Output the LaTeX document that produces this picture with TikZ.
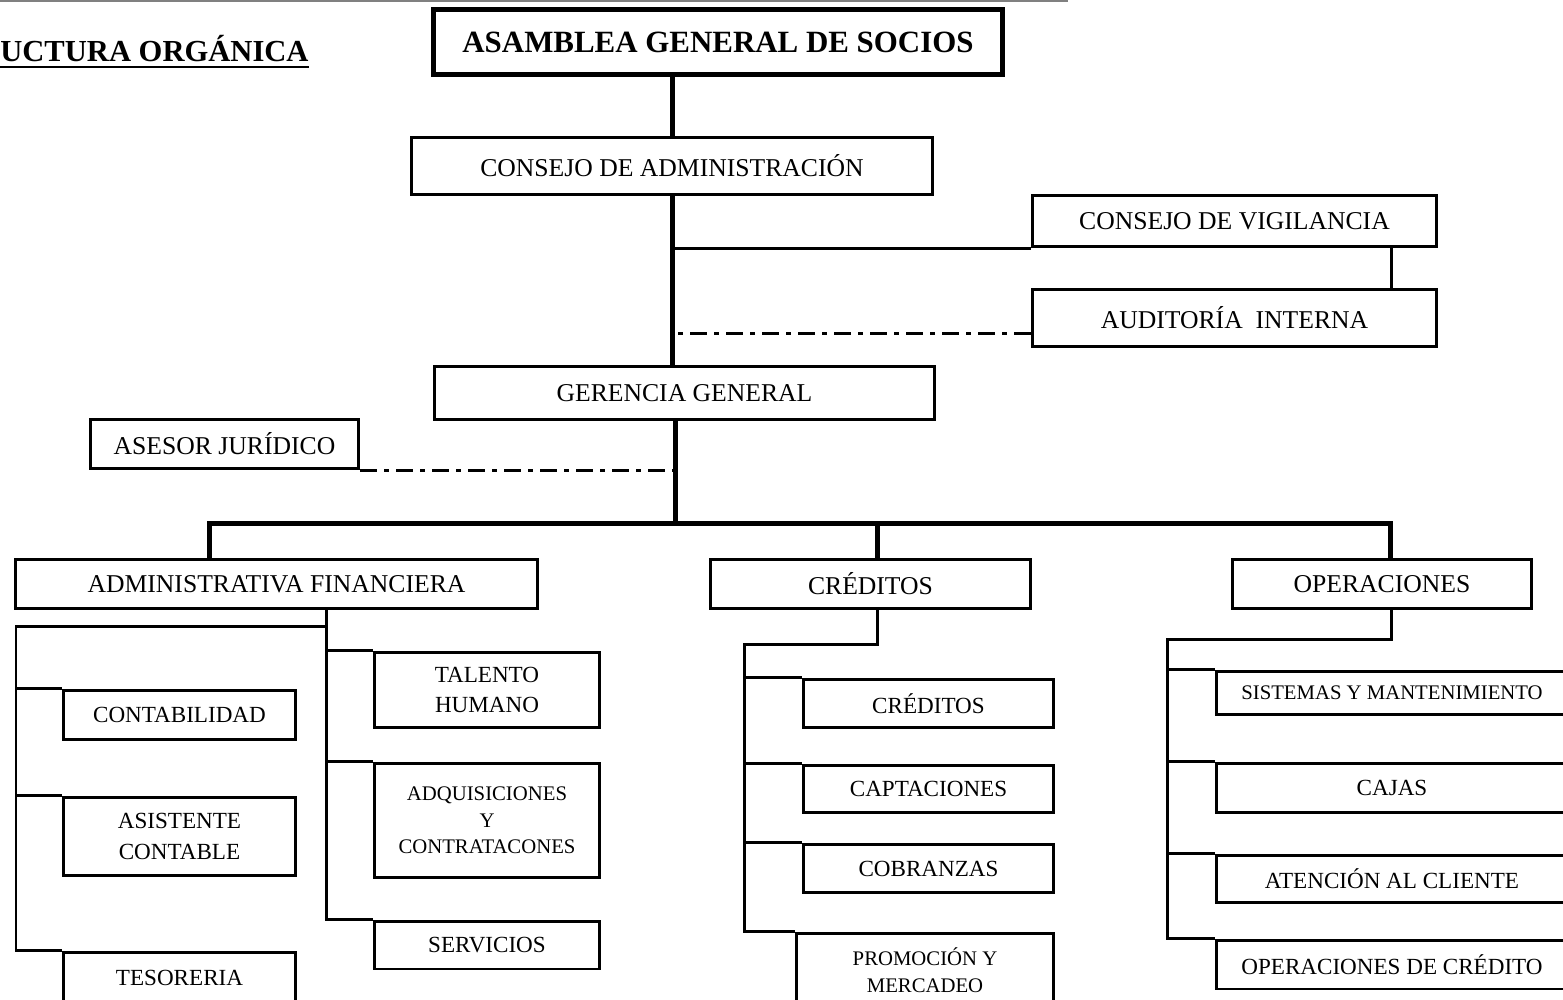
\documentclass[tikz,border=0pt]{standalone}
\usepackage{fontspec}
\setmainfont{Liberation Serif}
\usetikzlibrary{positioning}

\begin{document}
\begin{tikzpicture}[x=0.02cm,y=-0.02cm,
    caja/.style={draw, line width=0.06cm, inner sep=0pt, align=center, text=black},
    grande/.style={font=\fontsize{14.6}{17}\selectfont},
    media/.style={font=\fontsize{13.15}{17.4}\selectfont},
    chica/.style={font=\fontsize{11.8}{15.2}\selectfont},
    tronco/.style={line width=0.1cm},
    rama/.style={line width=0.06cm},
    punteada/.style={line width=0.06cm, dash pattern=on 0.34cm off 0.14cm on 0.1cm off 0.14cm}]
    \useasboundingbox (0,0) rectangle (1563,1000);
    \draw[gray, line width=0.04cm] (0,1) -- (1068,1);
    \node[anchor=base west, inner sep=0pt, font=\bfseries\fontsize{17.4}{20}\selectfont] (titulo) at (0,62) {UCTURA ORGÁNICA};
    \draw[line width=0.05cm] ([yshift=-0.1cm]titulo.base west) -- ([yshift=-0.1cm]titulo.base east);
    % niveles superiores
    \node[caja, line width=0.1cm, font=\bfseries\fontsize{17.6}{20}\selectfont, minimum width=11.4cm, minimum height=1.32cm] (asamblea) at (718,42) {ASAMBLEA GENERAL DE SOCIOS};
    \node[caja, grande, minimum width=10.44cm, minimum height=1.16cm] (consejo) at (672,166) {CONSEJO DE ADMINISTRACIÓN};
    \node[caja, grande, minimum width=8.1cm, minimum height=1.04cm] (vigilancia) at (1234.5,221) {CONSEJO DE VIGILANCIA};
    \node[caja, grande, minimum width=8.1cm, minimum height=1.16cm] (auditoria) at (1234.5,318) {AUDITORÍA\ \ INTERNA};
    \node[caja, grande, minimum width=10.02cm, minimum height=1.08cm] (gerencia) at (684.5,393) {GERENCIA GENERAL};
    \node[caja, grande, minimum width=5.38cm, minimum height=1cm] (asesor) at (224.5,444) {ASESOR JURÍDICO};
    \node[caja, grande, minimum width=10.46cm, minimum height=1cm] (adminfin) at (276.5,584) {ADMINISTRATIVA FINANCIERA};
    \node[caja, grande, minimum width=6.42cm, minimum height=1cm] (creditos) at (870.5,584) {CRÉDITOS};
    \node[caja, grande, minimum width=6cm, minimum height=1cm] (operaciones) at (1382,584) {OPERACIONES};
    % administrativa financiera
    \node[caja, media, minimum width=4.52cm, minimum height=1.52cm] (talento) at (487,690) {TALENTO\\HUMANO};
    \node[caja, chica, minimum width=4.52cm, minimum height=2.3cm] (adquisiciones) at (487,820.5) {ADQUISICIONES\\Y\\CONTRATACONES};
    \node[caja, media, minimum width=4.52cm, minimum height=0.96cm] (servicios) at (487,945) {SERVICIOS};
    \node[caja, media, minimum width=4.66cm, minimum height=1cm] (contabilidad) at (179.5,715) {CONTABILIDAD};
    \node[caja, media, minimum width=4.66cm, minimum height=1.58cm] (asistente) at (179.5,836.5) {ASISTENTE\\CONTABLE};
    \node[caja, media, minimum width=4.66cm, minimum height=1.04cm] (tesoreria) at (179.5,978) {TESORERIA};
    % creditos
    \node[caja, media, minimum width=5.02cm, minimum height=0.98cm] (credsub) at (928.5,703.5) {CRÉDITOS};
    \node[caja, media, minimum width=5.02cm, minimum height=0.96cm] (captaciones) at (928.5,789) {CAPTACIONES};
    \node[caja, media, minimum width=5.02cm, minimum height=0.98cm] (cobranzas) at (928.5,868.5) {COBRANZAS};
    \node[caja, chica, minimum width=5.16cm, minimum height=1.5cm] (promocion) at (925,970.5) {PROMOCIÓN Y\\MERCADEO};
    % operaciones
    \node[caja, chica, minimum width=7.04cm, minimum height=0.88cm] (sistemas) at (1392,693) {SISTEMAS Y MANTENIMIENTO};
    \node[caja, media, minimum width=7.04cm, minimum height=1cm] (cajas) at (1392,788) {CAJAS};
    \node[caja, media, minimum width=7.04cm, minimum height=0.96cm] (atencion) at (1392,879) {ATENCIÓN AL CLIENTE};
    \node[caja, media, minimum width=7.04cm, minimum height=0.98cm] (opcredito) at (1392,964.5) {OPERACIONES DE CRÉDITO};
    % tronco principal
    \draw[tronco] (asamblea.south -| consejo.north) -- (consejo.north);
    \draw[tronco] (consejo.south) -- (consejo.south |- gerencia.north);
    \coordinate (bus) at (675,523);
    \draw[tronco] (gerencia.south -| bus) -- (bus);
    \draw[tronco] ([xshift=-1.35cm]adminfin.north) |- (bus) -| ([xshift=0.16cm]operaciones.north);
    \coordinate (cn) at ([xshift=0.13cm]creditos.north);
    \draw[tronco] (cn |- bus) -- (cn);
    % control y asesoria
    \draw[rama] (consejo.south |- vigilancia.south west) -- (vigilancia.south west);
    \draw[rama] ([xshift=3.14cm]vigilancia.south) -- ([xshift=3.14cm]auditoria.north);
    \coordinate (au) at ([yshift=-0.32cm]auditoria.west);
    \draw[punteada] (au) -- (au -| consejo.south);
    \draw[punteada] (asesor.south east) -- (asesor.south east -| bus);
    % ramas de administrativa financiera
    \coordinate (af) at ([xshift=1.01cm]adminfin.south);
    \draw[rama] (af) |- (servicios.north west);
    \draw[rama] (af |- talento.north west) -- (talento.north west);
    \draw[rama] (af |- adquisiciones.north west) -- (adquisiciones.north west);
    \coordinate (ai) at (16,626);
    \draw[rama] (af |- ai) -- (ai) |- (tesoreria.north west);
    \draw[rama] (ai |- contabilidad.north west) -- (contabilidad.north west);
    \draw[rama] (ai |- asistente.north west) -- (asistente.north west);
    % ramas de creditos
    \coordinate (cr) at (744,644);
    \draw[rama] ([xshift=0.13cm]creditos.south) |- (cr) |- (promocion.north west);
    \draw[rama] (cr |- credsub.north west) -- (credsub.north west);
    \draw[rama] (cr |- captaciones.north west) -- (captaciones.north west);
    \draw[rama] (cr |- cobranzas.north west) -- (cobranzas.north west);
    % ramas de operaciones
    \coordinate (op) at (1167,639);
    \draw[rama] ([xshift=0.18cm]operaciones.south) |- (op) |- (opcredito.north west);
    \draw[rama] (op |- sistemas.north west) -- (sistemas.north west);
    \draw[rama] (op |- cajas.north west) -- (cajas.north west);
    \draw[rama] (op |- atencion.north west) -- (atencion.north west);
\end{tikzpicture}
\end{document}
